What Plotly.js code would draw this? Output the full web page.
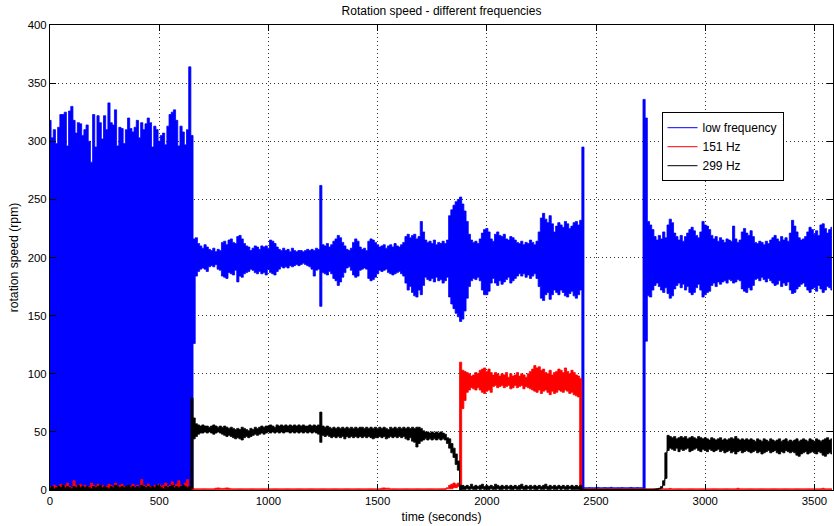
<!DOCTYPE html>
<html>
<head>
<meta charset="utf-8">
<script src="https://cdn.plot.ly/plotly-3.0.1.min.js"></script>
<style>
  html, body { margin: 0; padding: 0; background: #fff; }
  #chart { width: 834px; height: 526px; }
</style>
</head>
<body>
<div id="chart"></div>
<script>
// Rotation speed records, reduced to a min/max envelope per 10 s window.
// Entry i of every array belongs to the window starting at t = i * SAMPLE_STEP.
const SAMPLE_STEP = 10; // seconds
const seriesNames = ['low frequency', '151 Hz', '299 Hz'];
const xTickVals = [0, 500, 1000, 1500, 2000, 2500, 3000, 3500];
const yTickVals = [0, 50, 100, 150, 200, 250, 300, 350, 400];

// low frequency drive: window maxima (rpm)
const lowFreqHi = [
  318,303,310,298,312,323,323,325,296,326,
  330,318,307,316,315,305,310,314,300,282,
  323,295,322,316,302,322,310,333,316,314,
  327,296,312,311,298,310,320,311,308,312,
  318,303,316,310,315,320,316,295,313,310,
  300,305,307,297,313,323,325,327,318,296,
  313,308,297,310,364,305,216,217,212,210,
  208,211,209,207,206,208,205,207,206,213,
  214,211,215,216,213,212,218,219,216,212,
  210,209,206,208,210,209,207,210,209,210,
  208,215,214,212,209,207,206,208,206,207,
  205,208,206,205,206,206,205,206,207,206,
  207,206,208,207,262,211,210,212,209,211,
  214,216,219,217,213,210,207,206,208,213,
  216,214,209,207,208,206,214,216,215,213,
  211,209,210,211,208,210,211,209,212,210,
  209,211,213,218,220,217,219,220,216,218,
  231,222,215,213,214,212,215,211,213,212,
  214,212,215,236,241,245,248,250,252,246,
  240,231,220,215,213,214,212,216,221,224,
  225,222,216,214,220,222,219,218,220,216,
  215,218,217,215,213,212,214,211,213,212,
  215,213,211,214,222,234,238,233,230,236,
  229,222,227,230,228,226,231,229,225,227,
  230,231,228,232,295,2.0,1.9,2.1,2.0,1.9,
  2.0,2.2,1.9,2.0,2.1,1.9,2.0,2.3,2.0,1.9,
  2.0,1.9,2.1,2.0,1.9,2.0,2.2,2.0,1.9,2.1,
  2.0,1.9,336,320,231,228,224,218,215,219,
  216,222,217,228,233,230,221,218,215,219,
  214,218,221,224,226,223,219,217,222,231,
  228,227,224,219,216,218,214,217,215,213,
  216,215,214,227,216,213,215,222,225,221,
  219,223,218,213,212,214,213,211,214,212,
  215,217,219,216,214,218,215,217,214,221,
  232,227,222,217,215,216,218,222,226,224,
  220,223,219,228,229,225,221,224,226
];
// low frequency drive: window minima (rpm)
const lowFreqLo = [
  0,0,0,0,0,0,0,0,0,0,
  0,0,0,0,0,0,0,0,0,0,
  0,0,0,0,0,0,0,0,0,0,
  0,0,0,0,0,0,0,0,0,0,
  0,0,0,0,0,0,0,0,0,0,
  0,0,0,0,0,0,0,0,0,0,
  0,0,0,0,0,0,126,184,188,190,
  191,190,188,192,193,192,194,190,189,184,
  183,182,187,186,185,189,179,184,183,186,
  187,188,190,189,187,186,188,186,187,185,
  190,187,186,185,188,190,192,191,192,191,
  193,192,193,194,193,194,195,194,193,192,
  190,184,189,190,158,187,186,185,188,186,
  182,180,176,179,183,187,191,192,189,185,
  183,184,189,190,191,190,182,180,181,183,
  186,189,188,189,190,187,186,185,186,187,
  188,186,184,178,172,175,170,167,166,172,
  168,176,183,181,180,182,179,183,180,181,
  178,180,183,166,160,156,152,149,145,147,
  154,165,175,180,182,181,183,180,172,168,
  168,171,178,182,178,176,180,177,179,181,
  183,178,180,182,184,186,184,186,183,185,
  182,184,186,182,175,165,163,168,170,164,
  168,172,170,168,172,170,167,166,169,171,
  167,165,168,172,0,1.4,1.4,1.5,1.4,1.4,
  1.4,1.5,1.4,1.4,1.5,1.4,1.4,1.6,1.4,1.4,
  1.4,1.4,1.5,1.4,1.4,1.4,1.5,1.4,1.4,1.5,
  1.4,1.4,0,128,167,166,172,176,178,175,
  172,170,174,169,165,167,173,176,178,174,
  177,172,175,170,168,170,174,177,172,166,
  168,170,171,176,178,175,179,177,179,180,
  178,181,180,178,179,181,180,173,171,170,
  174,172,176,181,182,180,183,181,179,182,
  180,178,176,177,180,175,178,176,179,172,
  169,170,173,175,177,178,175,172,170,173,
  174,171,176,173,170,172,175,174,172
];

// 151 Hz drive: window maxima (rpm)
const hz151Hi = [
  3,2,4,3,2,5,3,4,6,3,
  2,8,4,3,5,3,4,2,3,6,
  4,3,5,2,4,3,3,5,4,3,
  6,3,4,5,3,2,4,3,5,3,
  4,2,9,4,3,5,3,2,4,3,
  5,3,4,6,3,4,7,3,5,8,
  4,3,6,9,3,2,1,1,1,1,
  1,1,1,1,1,1,1.5,1.8,1.5,1.2,
  1.5,1.8,1.5,1,1,1,1,1,1,1,
  1,1,1,1,1,1,1,1,1,1,
  1,1,1,1,1,1,1,1,1,1,
  1,1,1,1,1,1,1,1,1,1,
  1,1,1,1,1,1,1,1,1,1,
  1,1,1,1,1,1,1,1,1,1,
  1,1,1,1,1,1,1,1,1,1,
  1,1,1.6,1.8,1.5,1.6,1,1,1,1,
  1,1,1,1,1,1,1,1,1,1,
  1,1,1,1,1,1,1,1,1,1,
  1,1.2,2,4,5,6,5,6,110,103,
  102,101,100,98,99,101,100,103,104,105,
  102,104,101,99,101,100,98,100,99,101,
  97,100,98,99,101,98,100,99,97,100,
  102,104,107,105,106,103,104,101,100,103,
  99,101,102,104,103,101,105,102,100,103,
  101,99,98,96,1,1,1,1,1,1,
  1,1,1,1,1,1,1,1,1,1,
  1,1,1,1,1,1,1,1,1,1,
  1,1,1,1,1,1,1,1,1,1,
  1,1,1,1,1.4,1,1,1,1,1,
  1,1,1,1,1,1,1,1,1,1,
  1,1,1,1,1,1,1,1,1,1,
  1,1,1,1,1,1.5,1,1,1,1,
  1,1,1,1,1,1,1,1,1,1,
  1,1,1,1,1,1,1,1,1,1,
  1,1,1,1,1,1,1,1,1,1,
  1,1,1,1,1.5,1,1,1,1
];
// 151 Hz drive: window minima (rpm)
const hz151Lo = [
  0,0,0,0,0,0,0,0,0,0,
  0,0,0,0,0,0,0,0,0,0,
  0,0,0,0,0,0,0,0,0,0,
  0,0,0,0,0,0,0,0,0,0,
  0,0,0,0,0,0,0,0,0,0,
  0,0,0,0,0,0,0,0,0,0,
  0,0,0,0,0,0,0.5,0.5,0.5,0.5,
  0.5,0.5,0.5,0.5,0.5,0.5,0.5,0.5,0.5,0.5,
  0.5,0.5,0.5,0.5,0.5,0.5,0.5,0.5,0.5,0.5,
  0.5,0.5,0.5,0.5,0.5,0.5,0.5,0.5,0.5,0.5,
  0.5,0.5,0.5,0.5,0.5,0.5,0.5,0.5,0.5,0.5,
  0.5,0.5,0.5,0.5,0.5,0.5,0.5,0.5,0.5,0.5,
  0.5,0.5,0.5,0.5,0.5,0.5,0.5,0.5,0.5,0.5,
  0.5,0.5,0.5,0.5,0.5,0.5,0.5,0.5,0.5,0.5,
  0.5,0.5,0.5,0.5,0.5,0.5,0.5,0.5,0.5,0.5,
  0.5,0.5,0.5,0.5,0.5,0.5,0.5,0.5,0.5,0.5,
  0.5,0.5,0.5,0.5,0.5,0.5,0.5,0.5,0.5,0.5,
  0.5,0.5,0.5,0.5,0.5,0.5,0.5,0.5,0.5,0.5,
  0.5,0.5,1,1,1,2,2,3,2,70,
  77,84,86,88,87,86,88,86,84,83,
  85,86,84,89,90,88,89,90,88,89,
  90,87,88,90,88,89,90,87,89,88,
  87,86,85,84,86,83,85,86,84,82,
  85,83,84,86,85,84,86,85,83,84,
  82,81,80,0,0.5,0.5,0.5,0.5,0.5,0.5,
  0.5,0.5,0.5,0.5,0.5,0.5,0.5,0.5,0.5,0.5,
  0.5,0.5,0.5,0.5,0.5,0.5,0.5,0.5,0.5,0.5,
  0.5,0.5,0.5,0.5,0.5,0.5,0.5,0.5,0.5,0.5,
  0.5,0.5,0.5,0.5,0.5,0.5,0.5,0.5,0.5,0.5,
  0.5,0.5,0.5,0.5,0.5,0.5,0.5,0.5,0.5,0.5,
  0.5,0.5,0.5,0.5,0.5,0.5,0.5,0.5,0.5,0.5,
  0.5,0.5,0.5,0.5,0.5,0.5,0.5,0.5,0.5,0.5,
  0.5,0.5,0.5,0.5,0.5,0.5,0.5,0.5,0.5,0.5,
  0.5,0.5,0.5,0.5,0.5,0.5,0.5,0.5,0.5,0.5,
  0.5,0.5,0.5,0.5,0.5,0.5,0.5,0.5,0.5,0.5,
  0.5,0.5,0.5,0.5,0.5,0.5,0.5,0.5,0.5
];

// 299 Hz drive: window maxima (rpm)
const hz299Hi = [
  2,3,1,2,3,2,4,2,3,2,
  1,3,2,4,2,3,2,3,2,1,
  3,2,3,4,2,3,2,1,3,2,
  4,3,2,3,2,3,4,2,3,2,
  3,2,4,3,2,3,2,3,2,4,
  3,2,1,3,2,3,4,2,3,2,
  3,4,3,2,3,79,62,57,56,55,
  56,55,55,54,55,56,55,54,55,54,
  55,54,53,54,53,52,53,52,54,53,
  52,51,53,52,54,53,54,55,54,55,
  55,56,55,54,56,55,56,55,56,55,
  56,55,56,55,56,55,56,55,55,56,
  55,56,55,56,67,55,54,55,54,53,
  54,53,54,53,54,53,54,53,54,53,
  54,53,54,54,53,54,53,54,53,54,
  53,54,53,54,53,52,54,53,54,53,
  54,53,54,53,54,53,54,53,54,54,
  53,51,50,50,49,50,49,50,49,50,
  49,48,45,44,40,36,31,25,4,4,
  3,4,3,5,3,4,3,4,5,3,
  4,3,4,3,5,4,3,4,3,4,
  3,4,3,4,3,4,5,3,4,3,
  4,3,4,3,4,3,4,5,3,4,
  3,4,3,4,3,4,3,4,3,4,
  3,4,3,4,1,0.6,0.6,0.6,0.6,0.6,
  0.6,0.6,0.6,0.6,0.6,0.6,0.6,0.6,0.6,0.6,
  0.6,0.6,0.6,0.6,0.6,0.6,0.6,0.6,0.6,0.6,
  0.6,0.6,0.6,0.6,0.6,0.6,0.6,0.8,1,1.5,
  3,8,32,47,46,45,46,44,45,46,
  45,46,44,45,46,45,44,46,45,44,
  45,44,43,45,44,43,44,45,43,44,
  43,44,45,44,46,44,43,44,43,44,
  43,44,43,42,44,43,42,44,43,42,
  44,43,42,43,44,42,43,44,42,43,
  42,43,44,42,43,44,43,42,44,43,
  42,44,43,42,43,44,45,43,44
];
// 299 Hz drive: window minima (rpm)
const hz299Lo = [
  0,0,0,0,0,0,0,0,0,0,
  0,0,0,0,0,0,0,0,0,0,
  0,0,0,0,0,0,0,0,0,0,
  0,0,0,0,0,0,0,0,0,0,
  0,0,0,0,0,0,0,0,0,0,
  0,0,0,0,0,0,0,0,0,0,
  0,0,0,0,0,1,44,46,48,49,
  49,50,49,50,49,48,49,50,49,48,
  47,46,47,46,45,44,45,44,43,45,
  46,45,46,47,48,47,48,49,48,49,
  50,49,50,49,50,49,50,49,50,50,
  49,50,49,50,49,50,49,50,49,50,
  49,50,49,48,41,47,46,47,46,45,
  46,45,46,45,46,44,46,45,46,45,
  46,45,46,45,46,45,46,45,44,45,
  45,46,45,46,44,45,46,45,46,45,
  46,45,46,44,43,45,42,41,37,40,
  42,43,44,43,44,43,44,43,44,43,
  44,43,40,36,32,28,22,17,0,0.5,
  0.5,1,0.5,1,0.5,0.5,1,0.5,1,0.5,
  0.5,0.5,1,0.5,0.5,1,0.5,0.5,1,0.5,
  1,0.5,0.5,1,0.5,0.5,1,0.5,0.5,1,
  0.5,1,0.5,0.5,1,0.5,0.5,1,0.5,0.5,
  1,0.5,0.5,1,0.5,1,0.5,0.5,1,0.5,
  0.5,0.5,0.5,0.5,0,0.3,0.3,0.3,0.3,0.3,
  0.3,0.3,0.3,0.3,0.3,0.3,0.3,0.3,0.3,0.3,
  0.3,0.3,0.3,0.3,0.3,0.3,0.3,0.3,0.3,0.3,
  0.3,0.3,0.3,0.3,0.3,0.3,0.3,0.4,0.5,0.8,
  1.5,4,10,34,36,35,34,36,33,35,
  34,35,36,33,34,35,36,34,33,35,
  34,33,35,34,33,34,35,33,34,32,
  33,34,32,33,31,33,34,32,33,34,
  33,32,33,34,32,33,31,32,33,34,
  32,33,34,32,31,33,32,34,33,32,
  33,32,30,29,31,32,33,31,32,33,
  32,31,33,32,30,29,31,32,31
];

const seriesColors = ['#0000ff', '#ff0000', '#000000'];
const envelopes = [[lowFreqHi, lowFreqLo], [hz151Hi, hz151Lo], [hz299Hi, hz299Lo]];

// Every window is drawn as a column from its minimum to its maximum:
// the minima and maxima become step lines centred on the window time,
// and the space between them is filled in the series colour.
function envelopeTraces(hi, lo, color) {
  if (hi.length !== lo.length) throw new Error('envelope length mismatch');
  const t = hi.map((_, i) => i * SAMPLE_STEP);
  const common = {
    type: 'scatter', mode: 'lines', x: t,
    line: { color: color, width: 0.8, shape: 'hvh' },
    showlegend: false, hoverinfo: 'skip'
  };
  return [
    Object.assign({}, common, { y: lo }),
    Object.assign({}, common, { y: hi, fill: 'tonexty', fillcolor: color })
  ];
}

const traces = [];
envelopes.forEach((e, k) => traces.push(...envelopeTraces(e[0], e[1], seriesColors[k])));
// legend keys
seriesNames.forEach((name, k) => {
  traces.push({
    type: 'scatter', mode: 'lines', x: [null], y: [null], name: name,
    line: { color: seriesColors[k], width: 1 }, showlegend: true
  });
});

const FONT = 'Liberation Sans, Arial, Helvetica, sans-serif';
const axisCommon = {
  ticks: 'inside', ticklen: 6, tickwidth: 1, tickcolor: '#000',
  showline: true, linecolor: '#000', linewidth: 1, mirror: 'ticks',
  showgrid: true, gridcolor: '#333', gridwidth: 1, griddash: '1px,3px',
  zeroline: false, automargin: false,
  tickfont: { family: FONT, size: 11.4, color: '#000' }
};

const layout = {
  width: 834, height: 526,
  margin: { l: 50, r: 1, t: 25, b: 36 },
  paper_bgcolor: '#ffffff', plot_bgcolor: '#ffffff',
  font: { family: FONT, size: 12, color: '#000' },
  title: {
    text: 'Rotation speed - different frequencies',
    x: 0.5, xref: 'paper', xanchor: 'center',
    y: 1 - 11 / 526, yref: 'container', yanchor: 'middle',
    font: { size: 12, color: '#000' }
  },
  xaxis: Object.assign({}, axisCommon, {
    range: [0, 3585], tickmode: 'array', tickvals: xTickVals,
    title: { text: 'time (seconds)', standoff: 6, font: { size: 12.2 } }
  }),
  yaxis: Object.assign({}, axisCommon, {
    range: [0, 400], tickmode: 'array', tickvals: yTickVals,
    title: { text: 'rotation speed (rpm)', standoff: 6, font: { size: 12.2 } }
  }),
  showlegend: true,
  legend: {
    x: 0.781, y: 0.8125, xanchor: 'left', yanchor: 'top',
    traceorder: 'normal',
    bgcolor: '#ffffff', bordercolor: '#000', borderwidth: 1,
    font: { size: 12, color: '#000' }, tracegroupgap: 0
  }
};

Plotly.newPlot('chart', traces, layout, { staticPlot: true, displayModeBar: false });
</script>
</body>
</html>
